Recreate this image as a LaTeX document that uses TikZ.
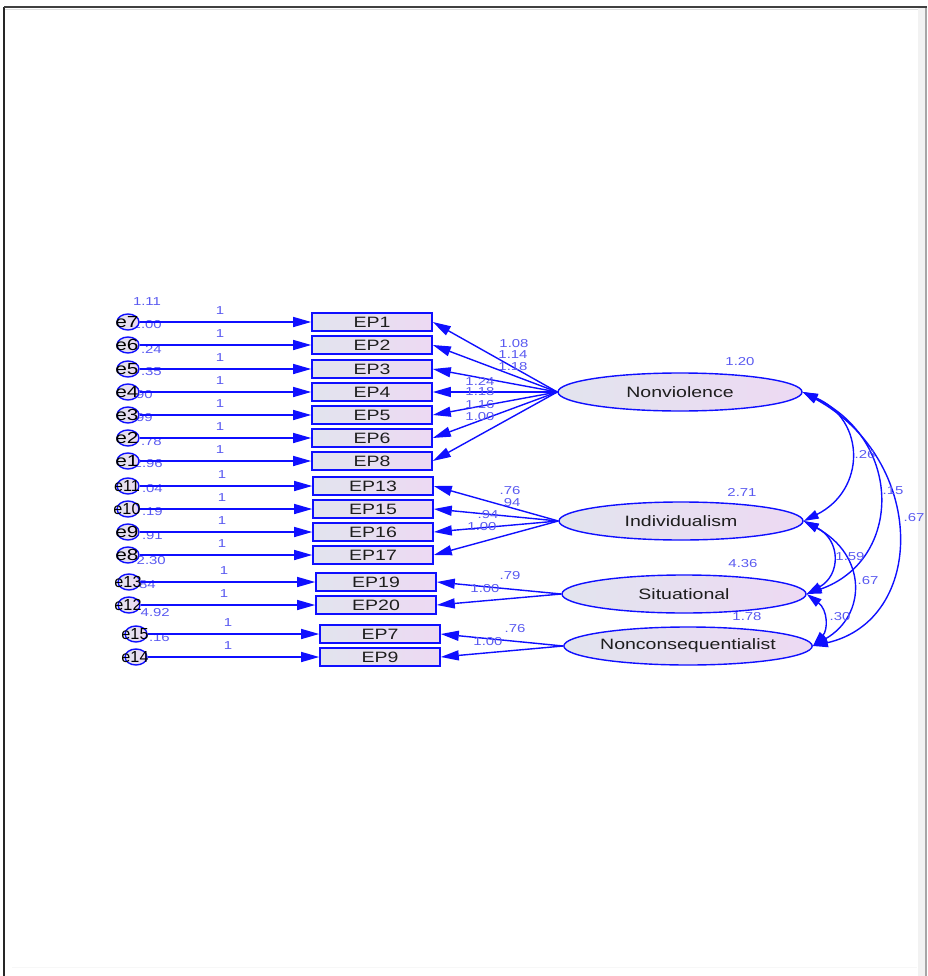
\documentclass[tikz,border=0pt]{standalone}
\usepackage{fontspec}
\setmainfont{Liberation Sans}[FakeStretch=1.3]
\usetikzlibrary{arrows.meta,shapes.geometric}
\definecolor{amblue}{RGB}{15,15,255}
\definecolor{numblue}{RGB}{90,90,240}
\definecolor{fillL}{RGB}{226,228,238}
\definecolor{fillR}{RGB}{237,217,243}
\definecolor{txt}{RGB}{30,30,30}
\tikzset{
  obs/.style={draw=amblue, line width=1.6pt, left color=fillL, right color=fillR,
    minimum width=120pt, minimum height=18pt, inner sep=0pt,
    font=\fontsize{15}{15}\selectfont, text=txt},
  lat/.style={ellipse, draw=amblue, line width=1.4pt, left color=fillL, right color=fillR,
    minimum width=244pt, minimum height=38pt, inner sep=0pt,
    font=\fontsize{15}{15}\selectfont, text=txt},
  err/.style={ellipse, draw=amblue, line width=1.4pt, left color=fillL, right color=fillR,
    minimum width=22pt, minimum height=16pt, inner sep=0pt},
  elab/.style={font=\fontsize{16}{16}\selectfont, text=black, inner sep=0pt},
  num/.style={font=\fontsize{11.5}{11.5}\selectfont, text=numblue, inner sep=0pt},
  loadarr/.style={draw=amblue, line width=1.4pt, -{Triangle[length=18pt,width=10pt]}},
  covarr/.style={draw=amblue, line width=1.4pt,
    {Triangle[length=15pt,width=9pt]}-{Triangle[length=15pt,width=9pt]}},
}
\begin{document}
\begin{tikzpicture}[x=1pt,y=-1pt]
\useasboundingbox (0,0) rectangle (927,976);
% frame
\fill[gray!10] (918,8) rectangle (925,976);
\draw[black!85, line width=1.5pt] (4,7) -- (4,976);
\draw[black!75, line width=2pt] (4,7) -- (927,7);
\draw[gray!25, line width=0.6pt] (5,9) -- (918,9);
\draw[gray!6, line width=0.8pt] (12,967) -- (917,967);

% variance numbers of errors
\node[num] (v1) at (147,302) {1.11};
\foreach \t/\xe/\y [count=\i] in {2.00/162/325, .24/162/349, .35/162/372, .90/153/395,
  .99/153/418, .78/162/442, 2.96/163/464, .04/163/489, .19/163/512, .91/163/536,
  2.30/166/561, .84/156/585, 4.92/170/613, .16/170/638}
  \node[num, anchor=east] (vn\i) at (\xe,\y) {\t};

% observed boxes and errors
\foreach \n/\y/\xc/\e/\cx/\ox/\sc in {
  EP1/322/372/e7/128/220/1, EP2/345/372/e6/128/220/1, EP3/369/372/e5/128/220/1,
  EP4/392/372/e4/128/220/1, EP5/415/372/e3/128/220/1, EP6/438/372/e2/128/220/1,
  EP8/461/372/e1/128/220/1,
  EP13/486/373/e11/128/222/0.78, EP15/509/373/e10/128/222/0.78,
  EP16/532/373/e9/128/222/1, EP17/555/373/e8/128/222/1,
  EP19/582/376/e13/129/224/0.78, EP20/605/376/e12/129/224/0.78,
  EP7/634/380/e15/136/228/0.78, EP9/657/380/e14/136/228/0.78}
{
  \node[obs] (\n) at (\xc,\y) {\n};
  \node[err] (\e) at (\cx,\y) {};
  \node[elab] (\e t) at (\cx-1,\y) {\scalebox{\sc}[1]{\e}};
  \draw[loadarr] (\e) -- (\n);
  \node[num] (one\n) at (\ox,\y-11) {1};
}

% latent variables
\node[lat] (NV) at (680,392) {Nonviolence};
\node[lat] (IN) at (681,521) {Individualism};
\node[lat] (SI) at (684,594) {Situational};
\node[lat] (NC) at (688,646) {Nonconsequentialist};

\node[num] (vNV) at (740,362) {1.20};
\node[num] (vIN) at (742,492) {2.71};
\node[num] (vSI) at (743,564) {4.36};
\node[num] (vNC) at (747,617) {1.78};

% loadings
\foreach \b in {EP1,EP2,EP3,EP4,EP5,EP6,EP8} \draw[loadarr] (NV.west) -- (\b.east);
\foreach \b in {EP13,EP15,EP16,EP17} \draw[loadarr] (IN.west) -- (\b.east);
\foreach \b in {EP19,EP20} \draw[loadarr] (SI.west) -- (\b.east);
\foreach \b in {EP7,EP9} \draw[loadarr] (NC.west) -- (\b.east);

\foreach \t/\x/\y [count=\i] in {1.08/514/344, 1.14/513/355, 1.18/513/367, 1.24/480/381,
  1.18/480/392, 1.16/480/405, 1.00/480/417, .76/510/491, .94/510/503, .94/488/515,
  1.00/482/527, .79/510/576, 1.00/485/589, .76/515/629, 1.00/488/642}
  \node[num] (ld\i) at (\x,\y) {\t};

% covariances
\draw[covarr] (NV.east) .. controls (866,420) and (866,490) .. (IN.east);
\draw[covarr] (NV.east) .. controls (903,440) and (903,560) .. (SI.east);
\draw[covarr] (NV.east) .. controls (927,460) and (927,620) .. (NC.east);
\draw[covarr] (IN.east) .. controls (841,540) and (841,575) .. (SI.east);
\draw[covarr] (IN.east) .. controls (867,555) and (867,615) .. (NC.east);
\draw[covarr] (SI.east) .. controls (828,610) and (828,630) .. (NC.east);

\node[num] (c1) at (865,455) {.26};
\node[num] (c2) at (893,491) {.15};
\node[num] (c3) at (914,518) {.67};
\node[num] (c4) at (850,557) {1.59};
\node[num] (c5) at (868,581) {.67};
\node[num] (c6) at (840,617) {.30};

\draw[gray!70, line width=1.2pt] (926,8) -- (926,976);
\end{tikzpicture}
\end{document}
